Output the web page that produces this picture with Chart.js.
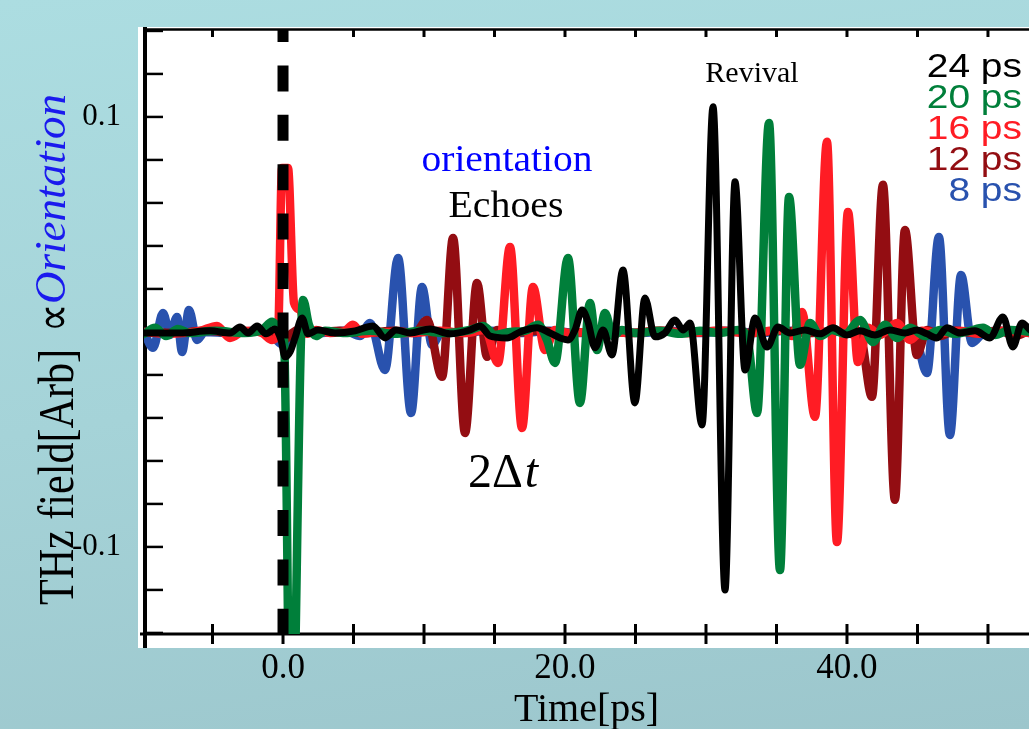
<!DOCTYPE html>
<html>
<head>
<meta charset="utf-8">
<title>THz field - orientation echoes</title>
<script src="https://cdn.jsdelivr.net/npm/chart.js@4.4.1/dist/chart.umd.min.js"></script>
<style>
  html, body { margin: 0; padding: 0; }
  body {
    width: 1029px; height: 729px; overflow: hidden;
    background: linear-gradient(172deg, #acdde1 0%, #a5d3d8 50%, #9cc6cc 100%);
  }
  #wrap { position: relative; width: 1029px; height: 729px; }
</style>
</head>
<body>
<div id="wrap"><canvas id="thzChart" width="1029" height="729"></canvas></div>
<script>
// axis ranges and ticks
const xMin = -9.86, xMax = 52.91;
const yMin = -0.1405, yMax = 0.1409;
const xTickValues = [-5, 0, 5, 10, 15, 20, 25, 30, 35, 40, 45, 50];
const xLabelValues = [0, 20, 40];
const xLabelText = ['0.0', '20.0', '40.0'];
const yTickValues = [-0.14, -0.12, -0.1, -0.08, -0.06, -0.04, -0.02, 0, 0.02, 0.04, 0.06, 0.08, 0.1, 0.12, 0.14];
const yLabelValues = [0.1, -0.1];
const yLabelText = ['0.1', '-0.1'];

// series: delay between the two pulses
const seriesLabels = ['24 ps', '20 ps', '16 ps', '12 ps', '8 ps'];
const pumpDelay = 0; // dashed line at the first pulse

// [time ps, field]
const trace24 = [[-9.86,-0.0005],[-7.30,-0.0005],[-5.18,0.0005],[-3.76,-0.0005],[-3.05,0.0023],[-2.48,-0.0005],[-1.84,0.0028],[-1.21,-0.0009],[-0.57,0.0014],[-0.14,-0.0037],[0.14,-0.0116],[0.50,-0.0093],[0.85,-0.0028],[1.35,0.0065],[1.77,-0.0009],[2.48,0.0009],[3.69,-0.0005],[5.11,0.0005],[6.38,0.0028],[7.23,-0.0028],[8.01,0.0009],[9.01,-0.0005],[10.43,0.0014],[11.84,-0.0009],[13.26,0.0009],[13.97,0.0028],[14.68,-0.0019],[15.89,-0.0028],[16.81,0],[18.01,0.0019],[18.94,-0.0005],[19.65,-0.0028],[20.21,-0.0037],[20.71,0.0009],[21.21,0.0102],[21.63,0.0047],[22.13,-0.0074],[22.70,0.0009],[23.33,-0.0107],[24.11,0.0288],[24.96,-0.0330],[25.67,0.0158],[26.38,-0.0023],[27.09,-0.0005],[27.80,0.0056],[28.37,0.0009],[28.87,0.0042],[29.72,-0.0433],[30.50,0.1047],[31.35,-0.1200],[32.06,0.0698],[32.77,-0.0177],[33.48,0.0065],[34.33,-0.0070],[35.11,0.0023],[35.96,-0.0005],[37.02,0.0009],[38.09,-0.0009],[39.01,0.0019],[40.00,-0.0014],[40.92,0.0005],[41.99,-0.0014],[43.05,0.0009],[44.11,-0.0005],[44.96,0.0009],[45.67,-0.0009],[46.38,-0.0028],[47.09,0.0019],[48.01,-0.0005],[49.08,0.0005],[50.14,-0.0028],[51.06,0.0070],[51.77,-0.0070],[52.41,0.0042],[52.98,0.0009]];

const trace20 = [[-9.86,-0.0009],[-9.08,0.0019],[-8.30,-0.0019],[-7.45,0.0014],[-6.60,-0.0005],[-4.82,0.0005],[-2.70,-0.0005],[-1.49,0.0009],[-0.78,0.0047],[-0.28,0.0019],[0.07,-0.0037],[0.57,-0.2177],[1.42,0.0149],[1.84,0.0033],[2.34,-0.0019],[2.98,0.0005],[4.40,-0.0005],[6.17,0.0005],[7.94,-0.0009],[9.72,0.0005],[11.49,-0.0005],[13.26,0.0009],[14.18,0.0028],[15.04,-0.0014],[16.10,0],[17.16,0.0005],[18.09,0.0033],[18.72,-0.0037],[19.29,-0.0144],[20.21,0.0344],[21.06,-0.0330],[21.77,0.0135],[22.27,-0.0084],[22.84,0.0088],[23.40,-0.0019],[24.04,0.0009],[24.96,-0.0005],[26.74,0.0005],[28.16,-0.0009],[29.57,0.0005],[30.99,-0.0005],[32.27,0.0009],[32.91,-0.0019],[33.62,-0.0377],[34.47,0.0972],[35.25,-0.1107],[35.89,0.0628],[36.67,-0.0153],[37.38,0.0042],[38.09,-0.0019],[38.94,0.0009],[39.86,-0.0009],[40.92,0.0056],[41.84,-0.0047],[42.70,0.0033],[43.55,-0.0028],[44.47,0.0019],[45.53,-0.0019],[46.60,0.0009],[47.66,-0.0009],[48.72,0.0005],[49.65,0.0019],[50.50,-0.0014],[51.56,0.0009],[52.98,0]];

const trace16 = [[-9.86,0],[-8.01,-0.0009],[-5.89,0.0005],[-4.68,0.0028],[-3.76,-0.0028],[-2.70,0.0005],[-1.49,-0.0005],[-0.78,-0.0037],[-0.35,-0.0005],[-0.07,0.0763],[0.35,0.0763],[0.78,0.0135],[1.21,0.0102],[1.70,-0.0009],[2.34,0.0009],[3.33,-0.0005],[4.40,0.0005],[4.96,0.0033],[5.60,-0.0009],[6.88,0],[9.01,-0.0005],[11.13,0.0005],[12.91,-0.0005],[14.33,0.0009],[15.25,-0.0144],[16.10,0.0395],[16.95,-0.0447],[17.73,0.0209],[18.58,-0.0084],[19.29,0.0009],[20.35,-0.0005],[22.48,0.0005],[24.61,-0.0005],[26.74,0.0005],[28.87,-0.0005],[30.99,0.0005],[33.12,-0.0005],[35.25,0.0009],[36.10,-0.0019],[36.81,0.0093],[37.73,-0.0395],[38.58,0.0884],[39.29,-0.0977],[40.07,0.0558],[40.78,-0.0140],[41.49,0.0019],[42.34,-0.0014],[43.55,0.0042],[44.47,-0.0037],[45.32,0.0005],[46.60,-0.0005],[48.01,0.0005],[49.43,-0.0009],[50.85,0.0005],[52.98,-0.0005]];

const trace12 = [[-9.86,0],[-7.66,-0.0005],[-5.53,0.0005],[-3.40,-0.0005],[-1.63,0.0005],[-0.50,-0.0014],[0.07,-0.0037],[0.64,-0.0005],[1.21,0.0014],[2.27,0],[4.04,0.0005],[5.82,-0.0005],[7.94,0.0005],[9.36,-0.0005],[10.21,0.0056],[11.28,-0.0209],[12.06,0.0437],[12.91,-0.0470],[13.76,0.0228],[14.47,-0.0116],[15.18,0.0009],[16.10,-0.0005],[18.23,0.0005],[20.35,-0.0005],[22.48,0.0005],[24.61,-0.0005],[26.74,0.0005],[28.87,-0.0005],[30.99,0.0005],[33.12,-0.0005],[35.25,0.0005],[37.38,-0.0005],[39.15,0.0005],[40.21,-0.0009],[40.92,-0.0014],[41.77,-0.0302],[42.55,0.0684],[43.40,-0.0781],[44.11,0.0474],[44.96,-0.0107],[45.67,0.0009],[46.60,-0.0019],[47.66,0.0005],[49.08,-0.0005],[50.85,0.0005],[51.91,-0.0019],[52.98,0.0009]];

const trace8 = [[-9.86,0],[-9.22,-0.0074],[-8.51,0.0088],[-8.01,-0.0014],[-7.52,0.0070],[-7.16,-0.0093],[-6.67,0.0102],[-6.10,-0.0037],[-5.53,0],[-3.76,-0.0005],[-1.99,0.0005],[-0.78,-0.0019],[0.00,-0.0060],[0.64,-0.0028],[1.21,0.0005],[2.62,-0.0005],[4.40,0.0005],[5.46,-0.0019],[6.17,0.0042],[7.23,-0.0177],[8.16,0.0344],[9.08,-0.0377],[9.86,0.0209],[10.57,-0.0060],[11.28,0],[12.55,-0.0005],[14.68,0.0005],[16.81,-0.0005],[18.94,0.0005],[21.06,-0.0005],[23.19,0.0005],[25.32,-0.0005],[27.45,0.0005],[29.57,-0.0005],[31.70,0.0005],[33.83,-0.0005],[35.96,0.0005],[38.09,-0.0005],[40.21,0.0005],[42.34,-0.0005],[44.11,0.0005],[44.82,-0.0014],[45.67,-0.0191],[46.52,0.0442],[47.30,-0.0479],[48.09,0.0265],[48.87,-0.0051],[49.79,0],[51.21,0.0005],[52.98,-0.0005]];

const traces = [trace24, trace20, trace16, trace12, trace8];
const seriesColors = ['#000000', '#007f3a', '#ff1c24', '#930d12', '#2952ae'];

// draw text, optionally squeezed/stretched along its run
function drawText(ctx, text, font, color, x, y, opts) {
  opts = opts || {};
  ctx.save();
  ctx.translate(x, y);
  if (opts.angle) ctx.rotate(opts.angle);
  ctx.font = font;
  ctx.fillStyle = color;
  ctx.textBaseline = 'alphabetic';
  ctx.textAlign = opts.align || 'left';
  let sx = opts.sx || 1;
  if (opts.width) sx = opts.width / ctx.measureText(text).width;
  ctx.scale(sx, 1);
  ctx.fillText(text, 0, 0);
  ctx.restore();
}

// fit a single glyph's ink box to w x h, bottom-left corner at (x, y)
function drawGlyphBox(ctx, ch, font, color, x, y, w, h, angle) {
  ctx.save();
  ctx.font = font;
  const m = ctx.measureText(ch);
  const gw = m.actualBoundingBoxLeft + m.actualBoundingBoxRight;
  const gh = m.actualBoundingBoxAscent + m.actualBoundingBoxDescent;
  ctx.translate(x, y);
  if (angle) ctx.rotate(angle);
  ctx.scale(w / gw, h / gh);
  ctx.fillStyle = color;
  ctx.textAlign = 'left';
  ctx.textBaseline = 'alphabetic';
  ctx.fillText(ch, m.actualBoundingBoxLeft, -m.actualBoundingBoxDescent);
  ctx.restore();
}

function strokeLine(ctx, x1, y1, x2, y2) {
  ctx.beginPath();
  ctx.moveTo(x1, y1);
  ctx.lineTo(x2, y2);
  ctx.stroke();
}

const framePlugin = {
  id: 'frame',
  beforeDraw(chart) {
    const ctx = chart.ctx, a = chart.chartArea;
    ctx.save();
    ctx.fillStyle = '#ffffff';
    ctx.fillRect(a.left - 6, a.top - 2, a.right - a.left + 6, a.bottom - a.top + 16);
    ctx.restore();
  },
  beforeDatasetsDraw(chart) {
    const ctx = chart.ctx, a = chart.chartArea;
    const xs = chart.scales.x, ys = chart.scales.y;
    ctx.save();
    ctx.strokeStyle = '#000';
    ctx.lineWidth = 2.5;
    strokeLine(ctx, a.left, a.top + 0.5, a.right, a.top + 0.5);
    ctx.lineWidth = 3;
    strokeLine(ctx, a.left - 4, a.bottom, a.right, a.bottom);
    ctx.lineWidth = 4;
    strokeLine(ctx, a.left + 1, a.top - 2, a.left + 1, a.bottom + 14);
    ctx.lineWidth = 3;
    xs.ticks.forEach(t => {
      const px = xs.getPixelForValue(t.value);
      strokeLine(ctx, px, a.bottom - 10, px, a.bottom + 10);
      strokeLine(ctx, px, a.top, px, a.top + 8);
    });
    ctx.lineWidth = 2.5;
    ys.ticks.forEach(t => {
      const py = ys.getPixelForValue(t.value);
      strokeLine(ctx, a.left, py, a.left + 19, py);
    });
    ctx.restore();
  },
  afterDraw(chart) {
    const ctx = chart.ctx;
    const up = -Math.PI / 2;
    // y axis title, mixed styles
    drawText(ctx, 'THz field[Arb]', '50px "Liberation Serif"', '#000', 73, 605, { angle: up, width: 256 });
    drawGlyphBox(ctx, '\u221D', '40px "DejaVu Sans"', '#000', 65, 328, 21, 20, up);
    drawText(ctx, 'Orientation', 'italic 44px "Liberation Serif"', '#1a1aee', 65, 304, { angle: up, width: 210 });

    // annotations
    drawText(ctx, 'Revival', '30px "Liberation Serif"', '#000', 752, 82, { align: 'center' });
    drawText(ctx, 'orientation', '38px "Liberation Serif"', '#0000ff', 507, 171, { align: 'center', width: 171 });
    drawText(ctx, 'Echoes', '38px "Liberation Serif"', '#000', 506, 217, { align: 'center', width: 115 });
    ctx.save();
    ctx.font = '48px "Liberation Serif"';
    const w2 = ctx.measureText('2\u0394').width;
    ctx.restore();
    drawText(ctx, '2\u0394', '48px "Liberation Serif"', '#000', 468, 487);
    drawText(ctx, 't', 'italic 48px "Liberation Serif"', '#000', 468 + w2 + 2, 487);

    // legend, right aligned
    seriesLabels.forEach((lab, i) => {
      drawText(ctx, lab, '33px "Liberation Sans"', seriesColors[i], 1022, 77 + 31 * i, { align: 'right', sx: 1.18 });
    });
  }
};

const datasets = [{
  label: 'pulse',
  data: [{ x: pumpDelay, y: yMax }, { x: pumpDelay, y: yMin - 0.0068 }],
  borderColor: '#000',
  borderWidth: 11,
  borderDash: [26, 23.4],
  borderDashOffset: 13,
  borderCapStyle: 'butt',
  tension: 0,
  clip: false,
  pointRadius: 0
}].concat(traces.map((tr, i) => ({
  label: seriesLabels[i],
  data: tr.map(p => ({ x: p[0], y: p[1] })),
  borderColor: seriesColors[i],
  borderWidth: i === 0 ? 7 : 8.5,
  cubicInterpolationMode: 'monotone',
  borderJoinStyle: 'round',
  borderCapStyle: 'round',
  pointRadius: 0
})));

new Chart(document.getElementById('thzChart'), {
  type: 'line',
  data: { datasets },
  options: {
    responsive: false,
    animation: false,
    layout: { padding: { top: 29, left: 0, right: 0, bottom: 0 } },
    plugins: { legend: { display: false }, tooltip: { enabled: false } },
    scales: {
      x: {
        type: 'linear', min: xMin, max: xMax, bounds: 'data',
        afterBuildTicks: s => { s.ticks = xTickValues.map(v => ({ value: v })); },
        afterFit: s => { s.height = 95; s.paddingLeft = 0; s.paddingRight = 0; },
        grid: { display: false, drawTicks: false },
        border: { display: false },
        ticks: {
          autoSkip: false, maxRotation: 0, minRotation: 0, padding: 14, color: '#000',
          font: { family: 'Liberation Serif', size: 35 },
          callback: v => { const k = xLabelValues.indexOf(v); return k < 0 ? '' : xLabelText[k]; }
        },
        title: {
          display: true, text: 'Time[ps]', color: '#000',
          font: { family: 'Liberation Serif', size: 40 },
          padding: { top: 0, bottom: -5 }
        }
      },
      y: {
        type: 'linear', min: yMin, max: yMax, bounds: 'data',
        afterBuildTicks: s => { s.ticks = yTickValues.map(v => ({ value: v })); },
        afterFit: s => { s.width = 144; s.paddingTop = 0; s.paddingBottom = 0; },
        grid: { display: false, drawTicks: false },
        border: { display: false },
        ticks: {
          autoSkip: false, padding: 23, color: '#000',
          font: { family: 'Liberation Serif', size: 31 },
          callback: v => { const k = yLabelValues.indexOf(v); return k < 0 ? '' : yLabelText[k]; }
        }
      }
    }
  },
  plugins: [framePlugin]
});
</script>
</body>
</html>
